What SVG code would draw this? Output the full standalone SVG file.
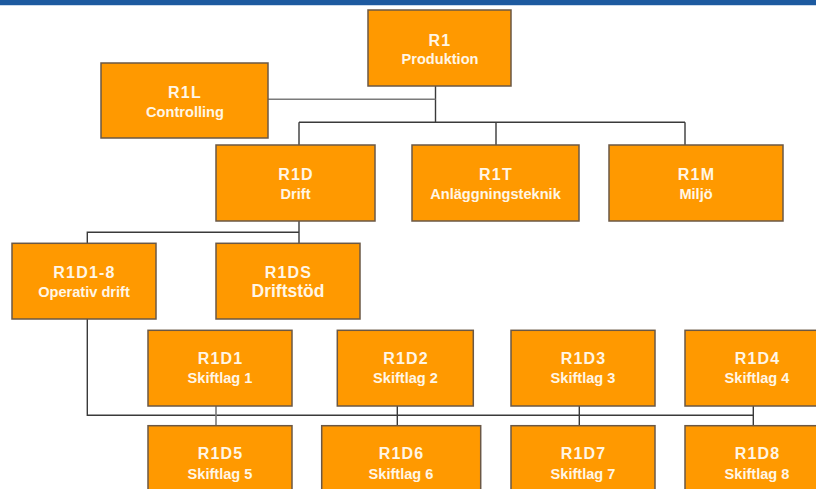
<svg xmlns="http://www.w3.org/2000/svg" width="816" height="489" viewBox="0 0 816 489">
  <style>
    .box { fill: #ff9900; stroke: #6b5845; stroke-width: 1.5; }
    .title { font-family: "Liberation Sans", Arial, sans-serif; font-weight: bold; font-size: 16px; letter-spacing: 1.2px; fill: #fff6e6; text-anchor: middle; }
    .sub { font-family: "Liberation Sans", Arial, sans-serif; font-weight: bold; font-size: 14.6px; fill: #fff6e6; text-anchor: middle; }
    .sub-big { font-size: 17.5px; }
    .link { fill: none; stroke: #3a3a3a; stroke-width: 1.4; }
    .link-soft { fill: none; stroke: #7a7a7a; stroke-width: 1.6; }
  </style>

  <!-- background and header band -->
  <rect x="0" y="0" width="816" height="489" fill="#ffffff"/>
  <rect x="0" y="0" width="816" height="5" fill="#1d5aa0"/>
  <rect x="0" y="5" width="816" height="1" fill="#c9d9ec"/>

  <!-- connectors -->
  <g id="connectors">
    <path class="link" d="M435.5 86 V122.3"/>
    <path class="link-soft" d="M268 99.3 H435.5"/>
    <path class="link" d="M299 122.3 H685 M299 122.3 V145 M496 122.3 V145 M685 122.3 V145"/>
    <path class="link" d="M299 221 V243 M299 232.3 H87.3 V243"/>
    <path class="link" d="M87.3 319 V415.3 H753.3"/>
    <path class="link-soft" d="M216 406 V426"/>
    <path class="link" d="M397.3 406 V426 M579.3 406 V426 M753.3 406 V426"/>
  </g>

  <g id="R1">
    <rect class="box" x="368" y="10" width="143" height="76"/>
    <text class="title" x="440" y="45.7">R1</text>
    <text class="sub" x="440" y="64.3">Produktion</text>
  </g>
  <g id="R1L">
    <rect class="box" x="101" y="63" width="167" height="75"/>
    <text class="title" x="185" y="97.5">R1L</text>
    <text class="sub" x="185" y="116.5">Controlling</text>
  </g>
  <g id="R1D">
    <rect class="box" x="216" y="145" width="159" height="76"/>
    <text class="title" x="296" y="179.5">R1D</text>
    <text class="sub" x="295.5" y="198.5">Drift</text>
  </g>
  <g id="R1T">
    <rect class="box" x="412" y="145" width="167" height="76"/>
    <text class="title" x="496" y="179.5">R1T</text>
    <text class="sub" x="495.5" y="198.5">Anläggningsteknik</text>
  </g>
  <g id="R1M">
    <rect class="box" x="609" y="145" width="174" height="76"/>
    <text class="title" x="696.5" y="179.5">R1M</text>
    <text class="sub" x="696" y="198.5">Miljö</text>
  </g>
  <g id="R1D1-8">
    <rect class="box" x="12" y="243.3" width="144" height="75.7"/>
    <text class="title" x="84.5" y="277.7">R1D1-8</text>
    <text class="sub" x="84" y="296.5">Operativ drift</text>
  </g>
  <g id="R1DS">
    <rect class="box" x="216" y="243.3" width="144" height="75.7"/>
    <text class="title" x="288.5" y="277.7">R1DS</text>
    <text class="sub sub-big" x="288" y="296.7">Driftstöd</text>
  </g>

  <g id="R1D1">
    <rect class="box" x="148" y="330.3" width="144" height="75.7"/>
    <text class="title" x="220.5" y="363.5">R1D1</text>
    <text class="sub" x="220" y="383.3">Skiftlag 1</text>
  </g>
  <g id="R1D2">
    <rect class="box" x="337.3" y="330.3" width="136" height="75.7"/>
    <text class="title" x="406" y="363.5">R1D2</text>
    <text class="sub" x="405.5" y="383.3">Skiftlag 2</text>
  </g>
  <g id="R1D3">
    <rect class="box" x="511" y="330.3" width="144" height="75.7"/>
    <text class="title" x="583.5" y="363.5">R1D3</text>
    <text class="sub" x="583" y="383.3">Skiftlag 3</text>
  </g>
  <g id="R1D4">
    <rect class="box" x="685" y="330.3" width="144" height="75.7"/>
    <text class="title" x="757.5" y="363.5">R1D4</text>
    <text class="sub" x="757" y="383.3">Skiftlag 4</text>
  </g>

  <g id="R1D5">
    <rect class="box" x="148" y="425.7" width="144" height="76"/>
    <text class="title" x="220.5" y="459">R1D5</text>
    <text class="sub" x="220" y="478.8">Skiftlag 5</text>
  </g>
  <g id="R1D6">
    <rect class="box" x="321.7" y="425.7" width="159" height="76"/>
    <text class="title" x="401.5" y="459">R1D6</text>
    <text class="sub" x="401" y="478.8">Skiftlag 6</text>
  </g>
  <g id="R1D7">
    <rect class="box" x="511" y="425.7" width="144" height="76"/>
    <text class="title" x="583.5" y="459">R1D7</text>
    <text class="sub" x="583" y="478.8">Skiftlag 7</text>
  </g>
  <g id="R1D8">
    <rect class="box" x="685" y="425.7" width="144" height="76"/>
    <text class="title" x="757.5" y="459">R1D8</text>
    <text class="sub" x="757" y="478.8">Skiftlag 8</text>
  </g>
</svg>
